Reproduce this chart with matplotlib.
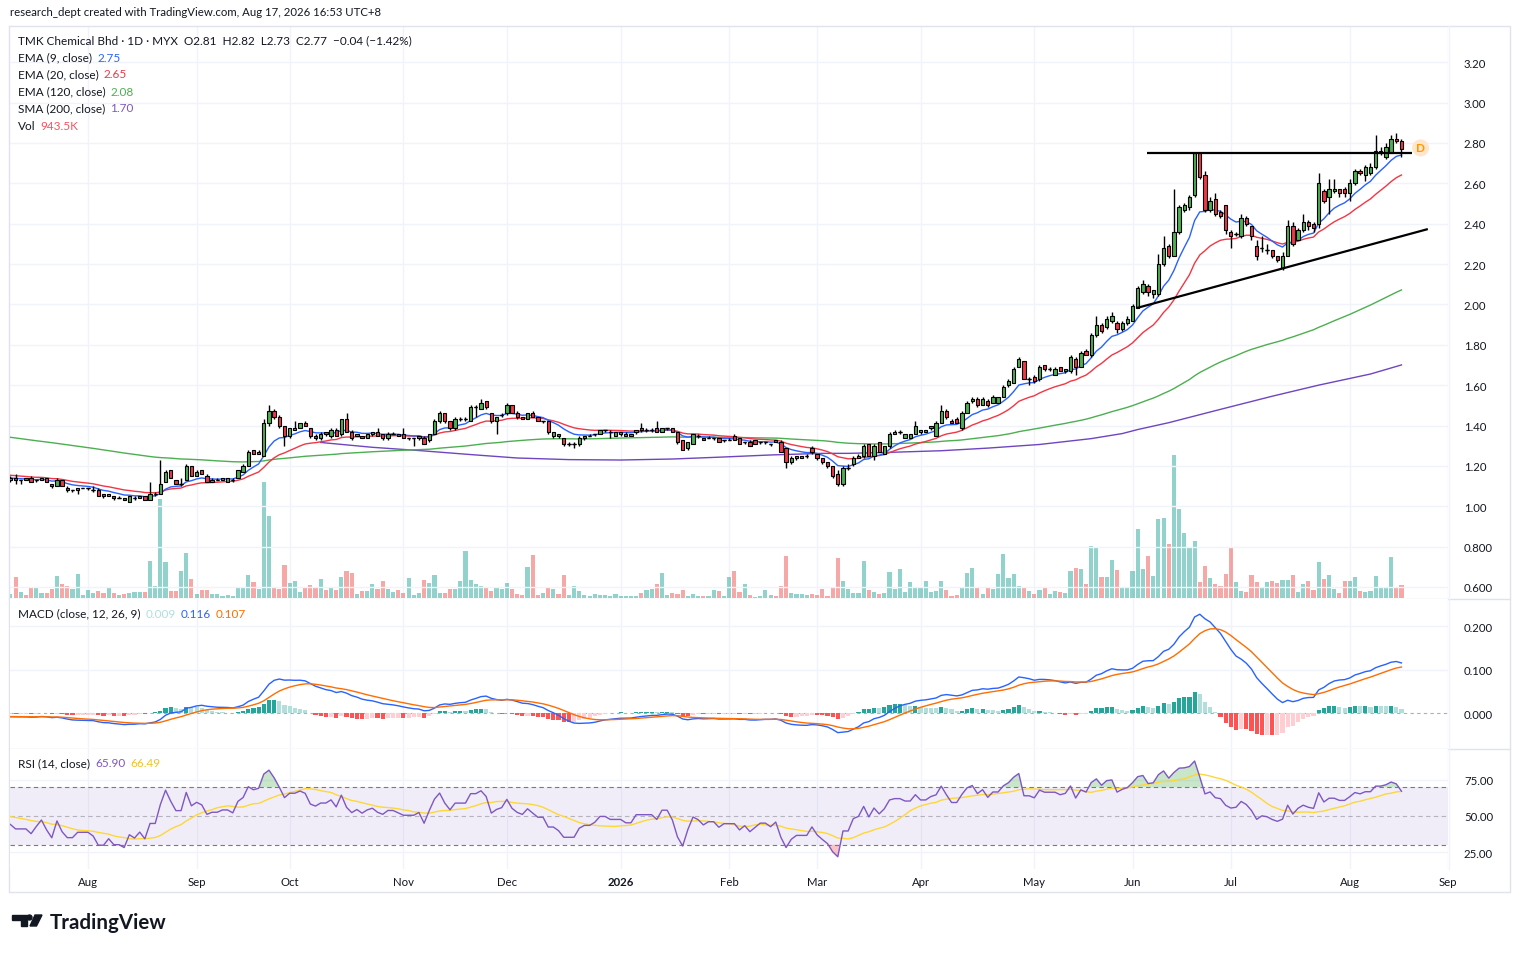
import numpy as np
import matplotlib
matplotlib.use("Agg")
import matplotlib.pyplot as plt
from matplotlib.patches import Polygon, Ellipse
from matplotlib.lines import Line2D

W, H = 1520, 954
plt.rcParams['font.family'] = ['Lato', 'DejaVu Sans']

# ---------------- data ----------------
opens = [
 1.13,1.14,1.13,1.14,1.14,1.13,1.13,1.14,1.11,1.10,
 1.13,1.09,1.08,1.08,1.09,1.09,1.08,1.08,1.06,1.05,
 1.05,1.04,1.04,1.02,1.04,1.04,1.05,1.03,1.06,1.06,
 1.12,1.18,1.13,1.11,1.13,1.20,1.15,1.18,1.15,1.12,
 1.13,1.13,1.12,1.13,1.14,1.17,1.20,1.28,1.26,1.25,
 1.41,1.47,1.44,1.40,1.35,1.38,1.39,1.41,1.39,1.35,
 1.34,1.37,1.35,1.38,1.36,1.43,1.37,1.35,1.35,1.34,
 1.36,1.37,1.36,1.34,1.36,1.36,1.36,1.34,1.34,1.34,
 1.34,1.33,1.36,1.42,1.46,1.42,1.39,1.43,1.43,1.42,
 1.49,1.48,1.52,1.46,1.42,1.45,1.46,1.50,1.46,1.44,
 1.43,1.46,1.44,1.42,1.42,1.35,1.36,1.34,1.31,1.31,
 1.31,1.34,1.35,1.36,1.36,1.38,1.37,1.35,1.36,1.35,
 1.35,1.37,1.39,1.38,1.38,1.39,1.37,1.39,1.39,1.37,
 1.33,1.29,1.31,1.35,1.34,1.34,1.34,1.34,1.33,1.33,
 1.35,1.34,1.32,1.32,1.33,1.32,1.32,1.31,1.33,1.32,
 1.29,1.22,1.24,1.24,1.25,1.29,1.26,1.24,1.22,1.20,
 1.16,1.11,1.19,1.21,1.24,1.25,1.31,1.25,1.32,1.26,
 1.30,1.36,1.37,1.34,1.34,1.36,1.37,1.37,1.39,1.35,
 1.41,1.47,1.42,1.43,1.39,1.46,1.52,1.53,1.50,1.52,
 1.51,1.51,1.54,1.60,1.61,1.69,1.72,1.63,1.64,1.63,
 1.70,1.68,1.65,1.69,1.67,1.67,1.73,1.69,1.77,1.75,
 1.85,1.90,1.89,1.92,1.91,1.88,1.91,1.92,1.98,2.06,
 2.09,2.05,2.05,2.20,2.29,2.24,2.36,2.47,2.48,2.54,
 2.75,2.64,2.47,2.52,2.46,2.49,2.36,2.35,2.34,2.43,
 2.39,2.29,2.28,2.27,2.27,2.24,2.18,2.24,2.39,2.32,
 2.37,2.41,2.40,2.40,2.56,2.53,2.56,2.57,2.57,2.55,
 2.60,2.66,2.64,2.65,2.68,2.75,2.73,2.75,2.82,2.81]
highs = [
 1.15,1.16,1.13,1.14,1.15,1.13,1.14,1.14,1.11,1.14,
 1.13,1.10,1.08,1.09,1.09,1.09,1.10,1.09,1.06,1.06,
 1.05,1.05,1.04,1.05,1.05,1.05,1.05,1.12,1.07,1.23,
 1.18,1.18,1.13,1.14,1.21,1.20,1.18,1.18,1.16,1.14,
 1.14,1.14,1.14,1.14,1.18,1.21,1.28,1.28,1.28,1.43,
 1.50,1.48,1.45,1.40,1.39,1.42,1.41,1.42,1.39,1.36,
 1.37,1.37,1.39,1.39,1.43,1.46,1.38,1.36,1.35,1.36,
 1.37,1.39,1.36,1.37,1.37,1.36,1.39,1.34,1.34,1.35,
 1.35,1.36,1.43,1.47,1.46,1.42,1.44,1.44,1.44,1.50,
 1.50,1.53,1.52,1.46,1.44,1.46,1.51,1.50,1.47,1.44,
 1.46,1.47,1.44,1.42,1.42,1.37,1.36,1.34,1.32,1.32,
 1.35,1.35,1.36,1.36,1.38,1.38,1.38,1.37,1.37,1.37,
 1.36,1.38,1.41,1.39,1.39,1.42,1.39,1.39,1.39,1.37,
 1.33,1.32,1.36,1.36,1.34,1.35,1.34,1.34,1.33,1.34,
 1.36,1.34,1.32,1.33,1.33,1.32,1.32,1.31,1.33,1.33,
 1.29,1.25,1.25,1.25,1.26,1.30,1.26,1.24,1.22,1.20,
 1.18,1.20,1.21,1.25,1.26,1.31,1.31,1.31,1.32,1.30,
 1.37,1.38,1.38,1.36,1.36,1.42,1.38,1.38,1.40,1.42,
 1.50,1.48,1.43,1.44,1.47,1.52,1.54,1.54,1.54,1.53,
 1.55,1.54,1.60,1.63,1.69,1.74,1.72,1.64,1.65,1.70,
 1.70,1.69,1.69,1.69,1.68,1.75,1.74,1.77,1.78,1.86,
 1.94,1.91,1.94,1.96,1.92,1.92,1.94,2.00,2.09,2.12,
 2.10,2.07,2.25,2.34,2.30,2.57,2.49,2.50,2.54,2.75,
 2.75,2.66,2.53,2.55,2.47,2.49,2.37,2.36,2.45,2.44,
 2.39,2.32,2.34,2.30,2.27,2.24,2.26,2.42,2.41,2.38,
 2.45,2.42,2.41,2.65,2.57,2.62,2.62,2.57,2.58,2.62,
 2.67,2.67,2.69,2.70,2.84,2.78,2.80,2.84,2.85,2.82]
lows = [
 1.12,1.11,1.11,1.13,1.12,1.12,1.13,1.12,1.09,1.10,
 1.10,1.07,1.07,1.06,1.09,1.08,1.07,1.05,1.04,1.05,
 1.03,1.04,1.03,1.02,1.03,1.04,1.03,1.03,1.05,1.06,
 1.12,1.14,1.11,1.10,1.13,1.15,1.15,1.16,1.12,1.12,
 1.13,1.13,1.12,1.12,1.14,1.17,1.20,1.26,1.26,1.25,
 1.40,1.43,1.39,1.30,1.34,1.38,1.39,1.40,1.34,1.33,
 1.33,1.35,1.34,1.35,1.35,1.37,1.33,1.35,1.34,1.34,
 1.35,1.35,1.33,1.33,1.36,1.35,1.34,1.33,1.30,1.33,
 1.31,1.32,1.36,1.41,1.41,1.38,1.38,1.42,1.42,1.42,
 1.44,1.48,1.48,1.41,1.36,1.44,1.45,1.46,1.43,1.43,
 1.43,1.44,1.42,1.41,1.36,1.34,1.34,1.30,1.30,1.29,
 1.30,1.33,1.35,1.35,1.36,1.37,1.34,1.35,1.35,1.35,
 1.35,1.36,1.37,1.37,1.37,1.37,1.37,1.38,1.37,1.31,
 1.28,1.28,1.31,1.34,1.33,1.34,1.33,1.32,1.32,1.33,
 1.33,1.31,1.31,1.30,1.31,1.31,1.31,1.30,1.32,1.27,
 1.19,1.21,1.23,1.24,1.24,1.26,1.23,1.21,1.19,1.14,
 1.10,1.10,1.18,1.20,1.24,1.24,1.25,1.23,1.27,1.26,
 1.29,1.36,1.36,1.34,1.34,1.36,1.36,1.37,1.38,1.35,
 1.41,1.43,1.41,1.41,1.38,1.46,1.51,1.49,1.50,1.49,
 1.51,1.51,1.54,1.59,1.61,1.69,1.63,1.60,1.61,1.62,
 1.67,1.67,1.65,1.67,1.66,1.66,1.65,1.69,1.75,1.74,
 1.84,1.86,1.88,1.91,1.86,1.87,1.90,1.92,1.98,2.05,
 2.04,2.03,2.04,2.19,2.23,2.24,2.35,2.46,2.47,2.53,
 2.62,2.46,2.46,2.44,2.43,2.35,2.28,2.34,2.33,2.39,
 2.32,2.22,2.26,2.25,2.23,2.21,2.17,2.24,2.29,2.32,
 2.36,2.37,2.36,2.38,2.50,2.45,2.55,2.53,2.53,2.51,
 2.59,2.64,2.61,2.64,2.67,2.74,2.72,2.75,2.80,2.73]
closes = [
 1.14,1.13,1.13,1.13,1.12,1.13,1.14,1.12,1.10,1.13,
 1.10,1.08,1.08,1.09,1.09,1.09,1.08,1.05,1.05,1.06,
 1.04,1.04,1.03,1.05,1.04,1.05,1.03,1.06,1.06,1.11,
 1.17,1.14,1.11,1.11,1.20,1.15,1.17,1.16,1.12,1.13,
 1.13,1.14,1.14,1.13,1.18,1.20,1.27,1.26,1.27,1.41,
 1.47,1.44,1.40,1.35,1.39,1.39,1.41,1.40,1.35,1.34,
 1.36,1.36,1.38,1.35,1.43,1.37,1.34,1.36,1.34,1.36,
 1.37,1.35,1.34,1.36,1.36,1.35,1.34,1.34,1.34,1.35,
 1.31,1.36,1.42,1.46,1.42,1.39,1.43,1.43,1.43,1.49,
 1.49,1.51,1.49,1.42,1.44,1.45,1.50,1.46,1.44,1.43,
 1.46,1.44,1.42,1.42,1.37,1.37,1.35,1.31,1.31,1.31,
 1.34,1.35,1.35,1.36,1.38,1.38,1.37,1.37,1.37,1.36,
 1.36,1.38,1.38,1.38,1.38,1.37,1.39,1.39,1.37,1.32,
 1.28,1.32,1.36,1.35,1.33,1.34,1.34,1.32,1.33,1.33,
 1.33,1.31,1.32,1.30,1.31,1.32,1.32,1.31,1.32,1.27,
 1.22,1.24,1.25,1.25,1.25,1.27,1.24,1.22,1.20,1.15,
 1.11,1.19,1.19,1.24,1.25,1.30,1.25,1.30,1.27,1.30,
 1.36,1.37,1.37,1.36,1.36,1.40,1.38,1.38,1.40,1.41,
 1.47,1.44,1.41,1.41,1.46,1.51,1.53,1.50,1.53,1.50,
 1.54,1.54,1.59,1.62,1.68,1.73,1.63,1.63,1.62,1.69,
 1.68,1.68,1.68,1.67,1.68,1.74,1.69,1.76,1.75,1.85,
 1.90,1.87,1.93,1.94,1.88,1.91,1.93,1.99,2.08,2.10,
 2.06,2.07,2.20,2.28,2.24,2.36,2.48,2.49,2.53,2.75,
 2.63,2.47,2.51,2.45,2.44,2.37,2.34,2.35,2.43,2.40,
 2.34,2.24,2.28,2.27,2.24,2.22,2.24,2.39,2.30,2.37,
 2.41,2.39,2.38,2.60,2.51,2.57,2.57,2.55,2.55,2.60,
 2.66,2.65,2.68,2.68,2.76,2.76,2.78,2.82,2.81,2.77]
volumes_k = [
 290,1520,440,220,730,730,360,360,650,1600,
 1020,870,650,1740,220,580,360,510,360,730,
 360,220,290,360,440,440,440,2690,870,7190,
 2610,510,510,1960,3270,1380,290,580,580,290,
 290,150,220,150,800,730,1670,1160,650,8420,
 5950,800,650,2400,1090,1230,440,800,940,800,
 1380,580,730,580,1520,1960,1820,290,510,510,
 1020,650,1230,650,440,580,360,1450,220,360,
 1310,1090,1670,360,360,650,650,1230,3410,1310,
 1020,870,800,510,800,650,1090,650,290,220,
 2250,3120,220,360,730,650,290,1670,220,870,
 510,220,150,290,220,220,150,290,150,150,
 150,150,360,580,650,1020,1820,220,360,290,
 580,150,290,150,150,150,580,510,150,1520,
 1960,440,1020,220,80,150,580,220,150,870,
 3050,360,290,290,220,290,220,650,150,800,
 2900,1230,650,360,360,2690,580,440,290,360,
 1890,650,2110,440,1160,800,800,1230,440,510,
 1230,580,150,220,800,1820,2180,730,290,730,
 650,1740,3190,1450,1740,870,800,510,290,580,
 800,290,510,440,360,1960,2180,2110,1020,3780,
 3630,1520,1520,2760,2030,800,800,1960,5010,2110,
 3050,1600,5740,5810,3920,10380,6460,4720,3630,4140,
 1160,2320,1450,1020,870,1740,3700,1160,510,440,
 1670,1160,800,1160,1230,1090,1310,1310,1670,440,
 1020,1230,580,2610,1380,1670,650,360,1230,1230,
 1520,510,440,510,1600,800,800,2980,800,943.5]

# trading sessions per month in view (first entry: July 2025 part) and axis labels
month_labels = ["Aug", "Sep", "Oct", "Nov", "Dec", "2026", "Feb", "Mar", "Apr", "May", "Jun", "Jul", "Aug", "Sep"]
month_sessions = [15, 21, 18, 22, 20, 22, 21, 17, 20, 22, 19, 19, 23, 19]

# SMA 200 (bar index, value)
sma200_idx = [60, 70, 79, 89, 98, 108, 118, 128, 137, 147, 157, 162, 170, 180, 189, 199, 209, 215, 218, 224, 234, 244, 253, 263, 269]
sma200_val = [1.316, 1.292, 1.276, 1.256, 1.239, 1.231, 1.229, 1.234, 1.243, 1.254, 1.262, 1.262, 1.267, 1.275, 1.288,
              1.306, 1.335, 1.360, 1.380, 1.414, 1.480, 1.545, 1.600, 1.655, 1.700]

# indicator values just before the first visible bar
ema9_seed, ema20_seed, ema120_seed = 1.14, 1.155, 1.345
ema12_seed, ema26_seed, signal_seed = 1.140, 1.148, -0.007
rsi_gain_seed, rsi_loss_seed, rsi_ma_seed = 0.0045, 0.0057, 50.0

# drawings
resist_x, resist_y = [219.8, 271.1], [2.751, 2.751]
support_x, support_y = [217.8, 274.1], [1.982, 2.373]
event_x, event_y, event_label = 272.7, 2.775, "D"

# legend texts
title_txt = "TMK Chemical Bhd \u00b7 1D \u00b7 MYX  O2.81  H2.82  L2.73  C2.77  \u22120.04 (\u22121.42%)"
ma_names = ["EMA (9, close)", "EMA (20, close)", "EMA (120, close)", "SMA (200, close)", "Vol"]
ma_vals = ["2.75", "2.65", "2.08", "1.70", "943.5K"]
macd_vals = ["0.009", "0.116", "0.107"]
rsi_vals = ["65.90", "66.49"]
price_ticks = [0.6, 0.8, 1.0, 1.2, 1.4, 1.6, 1.8, 2.0, 2.2, 2.4, 2.6, 2.8, 3.0, 3.2]
macd_ticks = [0.0, 0.1, 0.2]
rsi_ticks = [25, 50, 75]

# ---------------- computations ----------------
o = np.array(opens); h = np.array(highs); l = np.array(lows); c = np.array(closes)
v = np.array(volumes_k, dtype=float)
n = len(c)
x = np.arange(n)

def ema(vals, span, seed):
    a = 2.0 / (span + 1)
    out = []
    e = seed
    for val in vals:
        e = a * val + (1 - a) * e
        out.append(e)
    return np.array(out)

ema9 = ema(c, 9, ema9_seed)
ema20 = ema(c, 20, ema20_seed)
ema120 = ema(c, 120, ema120_seed)
macd = ema(c, 12, ema12_seed) - ema(c, 26, ema26_seed)
signal = ema(macd, 9, signal_seed)
hist = macd - signal

ag, al = rsi_gain_seed, rsi_loss_seed
rsi = []
for k in range(n):
    if k > 0:
        d = c[k] - c[k - 1]
        ag = (ag * 13 + max(d, 0)) / 14
        al = (al * 13 + max(-d, 0)) / 14
    rsi.append(100 - 100 / (1 + ag / al))
rsi = np.array(rsi)
rsi_ext = np.r_[[rsi_ma_seed] * 13, rsi]
rsi_ma = np.convolve(rsi_ext, np.ones(14) / 14, mode='valid')

month_pos = np.cumsum(month_sessions)[:len(month_labels)]

# ---------------- figure ----------------
fig = plt.figure(figsize=(W / 100, H / 100), dpi=100, facecolor='white')

def rect(x0, y0, x1, y1):
    return [x0 / W, 1 - y1 / H, (x1 - x0) / W, (y1 - y0) / H]

PX0, PX1 = 10, 1448
XL = (-0.08, 278.0)
GRID = '#F0F3FA'
TXT = '#131722'
FS = 8.2
LFS = 8.5

ax_v = fig.add_axes(rect(PX0, 27, PX1, 599), zorder=1)
ax_p = fig.add_axes(rect(PX0, 27, PX1, 599), zorder=2)
ax_m = fig.add_axes(rect(PX0, 600, PX1, 749), zorder=2)
ax_r = fig.add_axes(rect(PX0, 750, PX1, 870), zorder=2)
for ax in (ax_v, ax_p, ax_m, ax_r):
    ax.set_xlim(*XL)
    for s in ax.spines.values():
        s.set_visible(False)
    ax.tick_params(length=0, labelsize=FS, labelcolor=TXT)
    ax.set_xticks([])
ax_p.set_facecolor('none')
ax_v.set_yticks([])

# grids
for mp in month_pos:
    ax_v.axvline(mp, color=GRID, lw=1, zorder=0)
    ax_m.axvline(mp, color=GRID, lw=1, zorder=0)
    ax_r.axvline(mp, color=GRID, lw=1, zorder=0)
for pt in price_ticks:
    ax_p.axhline(pt, color=GRID, lw=1, zorder=0)

# volume
up = c >= o
vcol = np.where(up, '#26A69A', '#EF5350')
ax_v.bar(x, v, width=0.8, color=vcol, alpha=0.5, zorder=2)
ax_v.set_ylim(0, v.max() * 572 / 143)

# price
ax_p.set_ylim(0.5455, 3.379)
ax_p.plot(sma200_idx, sma200_val, color='#6F45C0', lw=1.0, zorder=2)
ax_p.plot(x, ema120, color='#4CAF50', lw=1.0, zorder=2)
ax_p.plot(x, ema20, color='#F23645', lw=1.0, zorder=2)
ax_p.plot(x, ema9, color='#2962FF', lw=1.0, zorder=2)
ax_p.vlines(x, l, h, color='black', lw=1.0, zorder=3)
body_lo = np.minimum(o, c)
body_h = np.abs(c - o)
bcol = np.where(up, '#4CAF50', '#F23645')
ax_p.bar(x, body_h, bottom=body_lo, width=0.64, color=bcol, edgecolor='black', linewidth=0.8, zorder=4)
doji = body_h < 1e-9
ax_p.hlines(c[doji], x[doji] - 0.32, x[doji] + 0.32, color='black', lw=1.0, zorder=4)
ax_p.plot(resist_x, resist_y, color='black', lw=1.6, zorder=5, solid_capstyle='butt')
ax_p.plot(support_x, support_y, color='black', lw=1.6, zorder=5, solid_capstyle='butt')
ax_p.scatter([event_x], [event_y], s=150, color='#FFE6CC', zorder=6, edgecolors='none')
ax_p.text(event_x, event_y, event_label, color='#FF9800', fontsize=8.5, fontweight='bold', ha='center', va='center', zorder=7)
ax_p.yaxis.tick_right()
ax_p.set_yticks(price_ticks)
ax_p.set_yticklabels([f"{t:.3f}" if t < 1 else f"{t:.2f}" for t in price_ticks])
ax_p.tick_params(axis='y', pad=11.5)

# MACD
ax_m.set_ylim(-0.0793, 0.263)
for t in (0.1, 0.2):
    ax_m.axhline(t, color=GRID, lw=1, zorder=0)
ax_m.axhline(0, color='#787B86', lw=0.8, alpha=0.6, ls=(0, (3, 3)), zorder=1)
prev = np.r_[hist[0], hist[:-1]]
hcol = np.where(hist >= 0, np.where(hist >= prev, '#26A69A', '#B2DFDB'),
                np.where(hist < prev, '#FF5252', '#FFCDD2'))
ax_m.bar(x, hist, width=0.8, color=hcol, zorder=2)
ax_m.plot(x, macd, color='#2962FF', lw=1.0, zorder=3)
ax_m.plot(x, signal, color='#FF6D00', lw=1.0, zorder=3)
ax_m.yaxis.tick_right()
ax_m.set_yticks(macd_ticks)
ax_m.set_yticklabels([f"{t:.3f}" for t in macd_ticks])
ax_m.tick_params(axis='y', pad=11.5)

# RSI
ax_r.set_ylim(13.2, 96.5)
for t in (25, 75):
    ax_r.axhline(t, color=GRID, lw=1, zorder=0)
ax_r.axhspan(30, 70, color='#7E57C2', alpha=0.1, lw=0, zorder=1)
ax_r.axhline(70, color='#787B86', lw=0.8, ls=(0, (4, 3)), zorder=2)
ax_r.axhline(30, color='#787B86', lw=0.8, ls=(0, (4, 3)), zorder=2)
ax_r.axhline(50, color='#787B86', lw=0.8, alpha=0.5, ls=(0, (4, 3)), zorder=2)
ax_r.fill_between(x, rsi, 70, where=rsi > 70, interpolate=True, color='#4CAF50', alpha=0.3, lw=0, zorder=2)
ax_r.fill_between(x, rsi, 30, where=rsi < 30, interpolate=True, color='#F23645', alpha=0.3, lw=0, zorder=2)
ax_r.plot(x, rsi_ma, color='#FDD835', lw=1.0, zorder=3)
ax_r.plot(x, rsi, color='#7E57C2', lw=1.0, zorder=4)
ax_r.yaxis.tick_right()
ax_r.set_yticks(rsi_ticks)
ax_r.set_yticklabels([f"{t:.2f}" for t in rsi_ticks])
ax_r.tick_params(axis='y', pad=11.5)
ax_r.set_xticks(month_pos)
ax_r.set_xticklabels(month_labels)
ax_r.tick_params(axis='x', pad=5)
for lab in ax_r.get_xticklabels():
    if lab.get_text().isdigit():
        lab.set_fontweight('bold')

# frame and separators
def fline(xs, ys, col='#E0E3EB', lw=1.0):
    fig.add_artist(Line2D([xx / W for xx in xs], [1 - yy / H for yy in ys], color=col, lw=lw, transform=fig.transFigure))

fline([9, 1510, 1510, 9, 9], [27, 27, 893, 893, 27])
fline([9, 1510], [599.5, 599.5])
fline([9, 1510], [749.5, 749.5])
fline([1448.5, 1448.5], [27, 870], col='#F0F3FA')

# texts
fig.text(10 / W, 1 - 12 / H, "research_dept created with TradingView.com, Aug 17, 2026 16:53 UTC+8",
         fontsize=FS, color=TXT, va='center', ha='left')
fig.canvas.draw()
rend = fig.canvas.get_renderer()

def seq_text(x0, y, parts):
    cur = x0
    for s, col, gap in parts:
        t = fig.text(cur / W, 1 - y / H, s, color=col, fontsize=LFS, va='center', ha='left')
        bb = t.get_window_extent(renderer=rend)
        cur = bb.x1 + gap

seq_text(18, 41, [(title_txt, TXT, 0)])
ma_cols = ['#2962FF', '#F23645', '#4CAF50', '#7E57C2', '#F7525F']
for k, (nm, val, col) in enumerate(zip(ma_names, ma_vals, ma_cols)):
    seq_text(18, 58 + 17 * k, [(nm, TXT, 5), (val, col, 0)])
seq_text(18, 614, [("MACD (close, 12, 26, 9)", TXT, 5), (macd_vals[0], '#B2DFDB', 5),
                   (macd_vals[1], '#2962FF', 5), (macd_vals[2], '#FF6D00', 0)])
seq_text(18, 764, [("RSI (14, close)", TXT, 5), (rsi_vals[0], '#7E57C2', 5), (rsi_vals[1], '#F2C418', 0)])

# TradingView logo
def P(xx, yy):
    return (xx / W, 1 - yy / H)
fig.add_artist(Polygon([P(12, 916), P(27, 916), P(27, 927), P(21, 927), P(21, 921), P(12, 921)],
                       closed=True, color=TXT, transform=fig.transFigure))
fig.add_artist(Ellipse(P(29.5, 918.5), 5 / W, 5 / H, color=TXT, transform=fig.transFigure))
fig.add_artist(Polygon([P(35, 916), P(42, 916), P(36.5, 927), P(30, 927)],
                       closed=True, color=TXT, transform=fig.transFigure))
fig.text(50 / W, 1 - 929.5 / H, "TradingView", fontsize=14.8, fontweight='bold', color=TXT, va='baseline', ha='left')

fig.savefig("out.png", dpi=100, facecolor='white')
